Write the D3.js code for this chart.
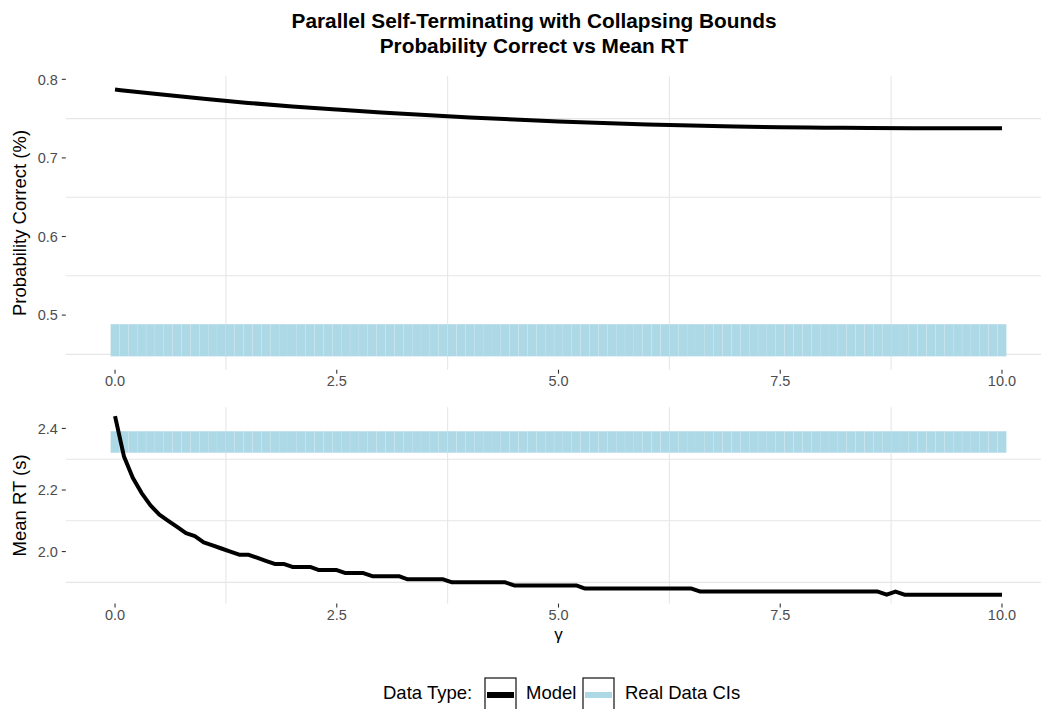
<!DOCTYPE html>
<html>
<head>
<meta charset="utf-8">
<script src="https://cdn.jsdelivr.net/npm/d3@7"></script>
<style>
  html, body { margin: 0; padding: 0; background: #fff; }
  text { font-family: "Liberation Sans", Arial, Helvetica, sans-serif; }
</style>
</head>
<body>
<svg id="chart" width="1041" height="709"></svg>
<script>
// ---------------- data ----------------
const gamma = [0.0,0.1,0.2,0.3,0.4,0.5,0.6,0.7,0.8,0.9,
  1.0,1.1,1.2,1.3,1.4,1.5,1.6,1.7,1.8,1.9,
  2.0,2.1,2.2,2.3,2.4,2.5,2.6,2.7,2.8,2.9,
  3.0,3.1,3.2,3.3,3.4,3.5,3.6,3.7,3.8,3.9,
  4.0,4.1,4.2,4.3,4.4,4.5,4.6,4.7,4.8,4.9,
  5.0,5.1,5.2,5.3,5.4,5.5,5.6,5.7,5.8,5.9,
  6.0,6.1,6.2,6.3,6.4,6.5,6.6,6.7,6.8,6.9,
  7.0,7.1,7.2,7.3,7.4,7.5,7.6,7.7,7.8,7.9,
  8.0,8.1,8.2,8.3,8.4,8.5,8.6,8.7,8.8,8.9,
  9.0,9.1,9.2,9.3,9.4,9.5,9.6,9.7,9.8,9.9,
  10.0];

const modelRT = [2.44,2.31,2.24,2.19,2.15,2.12,2.10,2.08,2.06,2.05,
  2.03,2.02,2.01,2.00,1.99,1.99,1.98,1.97,1.96,1.96,
  1.95,1.95,1.95,1.94,1.94,1.94,1.93,1.93,1.93,1.92,
  1.92,1.92,1.92,1.91,1.91,1.91,1.91,1.91,1.90,1.90,
  1.90,1.90,1.90,1.90,1.90,1.89,1.89,1.89,1.89,1.89,
  1.89,1.89,1.89,1.88,1.88,1.88,1.88,1.88,1.88,1.88,
  1.88,1.88,1.88,1.88,1.88,1.88,1.87,1.87,1.87,1.87,
  1.87,1.87,1.87,1.87,1.87,1.87,1.87,1.87,1.87,1.87,
  1.87,1.87,1.87,1.87,1.87,1.87,1.87,1.86,1.87,1.86,
  1.86,1.86,1.86,1.86,1.86,1.86,1.86,1.86,1.86,1.86,
  1.86];

const accGamma = [0,0.5,1,1.5,2,2.5,3,3.5,4,4.5,5,5.5,6,6.5,7,7.5,8,8.5,9,9.5,10];
const modelAcc = [0.7870,0.7810,0.7753,0.7700,0.7655,0.7615,0.7578,0.7545,0.7515,0.7488,
  0.7464,0.7443,0.7425,0.7411,0.7400,0.7391,0.7385,0.7381,0.7378,0.7377,0.7376];

const ciAcc = [0.4475, 0.4885];   // real data CI for accuracy (lower, upper)
const ciRT  = [2.321, 2.391];     // real data CI for mean RT (lower, upper)
const ciHalfWidth = 0.05;

const xTicks = [0, 2.5, 5, 7.5, 10];
const xMinor = [1.25, 3.75, 6.25, 8.75];
const accTicks = [0.5, 0.6, 0.7, 0.8];
const accMinor = [0.45, 0.55, 0.65, 0.75];
const rtTicks = [2.0, 2.2, 2.4];
const rtMinor = [1.9, 2.1, 2.3];

const titleLines = ["Parallel Self-Terminating with Collapsing Bounds", "Probability Correct vs Mean RT"];
const legendItems = ["Model", "Real Data CIs"];

// ---------------- layout ----------------
const svg = d3.select("#chart");
svg.append("rect").attr("width", 1041).attr("height", 709).attr("fill", "#fff");

const W = 1041;
const panelL = 65.8, panelR = 1051.2;
const xLo = -ciHalfWidth, xHi = 10 + ciHalfWidth;
const xPad = 0.05 * (xHi - xLo);
const x = d3.scaleLinear().domain([xLo - xPad, xHi + xPad]).range([panelL, panelR]);

function expand(lo, hi) { const p = 0.05 * (hi - lo); return [lo - p, hi + p]; }

const accDom = expand(Math.min(ciAcc[0], d3.min(modelAcc)), Math.max(ciAcc[1], d3.max(modelAcc)));
const rtDom = expand(Math.min(ciRT[0], d3.min(modelRT)), Math.max(ciRT[1], d3.max(modelRT)));

const panels = [
  { top: 76.2, bottom: 369.7, dom: accDom, ticks: accTicks, minor: accMinor, fmt: d3.format(".1f"),
    title: "Probability Correct (%)", xs: accGamma, ys: modelAcc, ci: ciAcc, curve: d3.curveMonotoneX },
  { top: 407.2, bottom: 603.6, dom: rtDom, ticks: rtTicks, minor: rtMinor, fmt: d3.format(".1f"),
    title: "Mean RT (s)", xs: gamma, ys: modelRT, ci: ciRT, curve: d3.curveLinear }
];

const gridCol = "#e6e6e6";
const tickCol = "#333333";
const labCol = "#4d4d4d";
const ciFill = "#add8e6";

panels.forEach(p => {
  const y = d3.scaleLinear().domain(p.dom).range([p.bottom, p.top]);
  const g = svg.append("g");

  // minor grid lines (major ones are blank)
  g.selectAll(".hg").data(p.minor).enter().append("line")
    .attr("x1", panelL).attr("x2", W)
    .attr("y1", d => y(d)).attr("y2", d => y(d))
    .attr("stroke", gridCol).attr("stroke-width", 1.1);
  g.selectAll(".vg").data(xMinor).enter().append("line")
    .attr("x1", d => x(d)).attr("x2", d => x(d))
    .attr("y1", p.top).attr("y2", p.bottom)
    .attr("stroke", gridCol).attr("stroke-width", 1.1);

  // CI rectangles
  g.selectAll(".ci").data(gamma).enter().append("rect")
    .attr("x", d => x(d - ciHalfWidth))
    .attr("width", d => x(d + ciHalfWidth) - x(d - ciHalfWidth))
    .attr("y", y(p.ci[1]))
    .attr("height", y(p.ci[0]) - y(p.ci[1]))
    .attr("fill", ciFill)
    .attr("stroke", "#ffffff").attr("stroke-width", 0.5).attr("stroke-opacity", 0.18);

  // model line
  const line = d3.line().x((d, i) => x(p.xs[i])).y(d => y(d)).curve(p.curve);
  g.append("path").datum(p.ys)
    .attr("d", line)
    .attr("fill", "none").attr("stroke", "#000").attr("stroke-width", 4)
    .attr("stroke-linejoin", "round");

  // y axis ticks + labels
  p.ticks.forEach(t => {
    g.append("line").attr("x1", panelL - 4).attr("x2", panelL)
      .attr("y1", y(t)).attr("y2", y(t)).attr("stroke", tickCol).attr("stroke-width", 1.1);
    g.append("text").attr("x", panelL - 8).attr("y", y(t)).attr("dy", "0.36em")
      .attr("text-anchor", "end").attr("font-size", 14.5).attr("fill", labCol).text(p.fmt(t));
  });

  // x axis ticks + labels
  xTicks.forEach(t => {
    g.append("line").attr("x1", x(t)).attr("x2", x(t))
      .attr("y1", p.bottom).attr("y2", p.bottom + 4).attr("stroke", tickCol).attr("stroke-width", 1.1);
    g.append("text").attr("x", x(t)).attr("y", p.bottom + 16.2)
      .attr("text-anchor", "middle").attr("font-size", 14.5).attr("fill", labCol)
      .text(t === 10 ? "10.0" : d3.format(".1f")(t));
  });

  // y axis title
  g.append("text")
    .attr("transform", `translate(26,${(p.top + p.bottom) / 2}) rotate(-90)`)
    .attr("text-anchor", "middle").attr("font-size", 18.5).attr("fill", "#000")
    .text(p.title);
});

// title
titleLines.forEach((t, i) => {
  svg.append("text").attr("x", 534).attr("y", 28 + i * 25)
    .attr("text-anchor", "middle").attr("font-size", 20.8).attr("font-weight", "bold")
    .attr("fill", "#000").text(t);
});

// x axis title
svg.append("text").attr("x", x(5)).attr("y", 640)
  .attr("text-anchor", "middle").attr("font-size", 17).attr("fill", "#000").text("γ");

// legend
const legY = 699;
svg.append("text").attr("x", 383).attr("y", legY).attr("font-size", 18.5).attr("fill", "#000").text("Data Type:");
const keyX = [485, 583];
const textX = [526, 625];
legendItems.forEach((lab, i) => {
  const kx = keyX[i];
  svg.append("rect").attr("x", kx).attr("y", 678).attr("width", 31).attr("height", 34)
    .attr("fill", "#fff").attr("stroke", "#222").attr("stroke-width", 1.3);
  svg.append("line").attr("x1", kx + 2).attr("x2", kx + 29).attr("y1", 695).attr("y2", 695)
    .attr("stroke", i === 0 ? "#000" : ciFill).attr("stroke-width", 6);
  svg.append("text").attr("x", textX[i]).attr("y", legY).attr("font-size", 18.5).attr("fill", "#000").text(lab);
});
</script>
</body>
</html>
